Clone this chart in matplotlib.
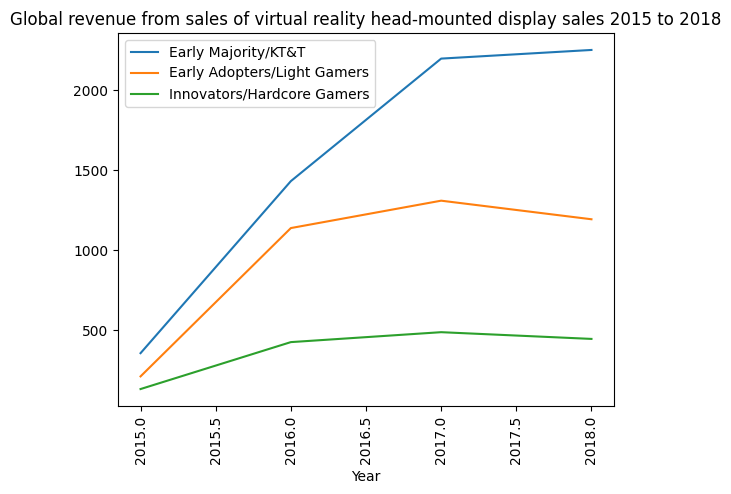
import matplotlib
matplotlib.use('Agg')
import matplotlib.pyplot as plt

years = [2015, 2016, 2017, 2018]
early_majority = [358, 1432, 2197, 2251]
early_adopters = [213, 1139, 1310, 1194]
innovators = [134, 427, 489, 447]

W, H = 731, 494
fig = plt.figure(figsize=(W / 100, H / 100), dpi=100)
ax = fig.add_axes([118 / W, (H - 406) / H, 496 / W, 373 / H])

ax.plot(years, early_majority, label='Early Majority/KT&T')
ax.plot(years, early_adopters, label='Early Adopters/Light Gamers')
ax.plot(years, innovators, label='Innovators/Hardcore Gamers')

ax.set_title('Global revenue from sales of virtual reality head-mounted display sales 2015 to 2018')
ax.set_xlabel('Year')
ax.tick_params(axis='x', labelrotation=90)
ax.legend(loc='upper left')

fig.savefig('out.png', dpi=100)
